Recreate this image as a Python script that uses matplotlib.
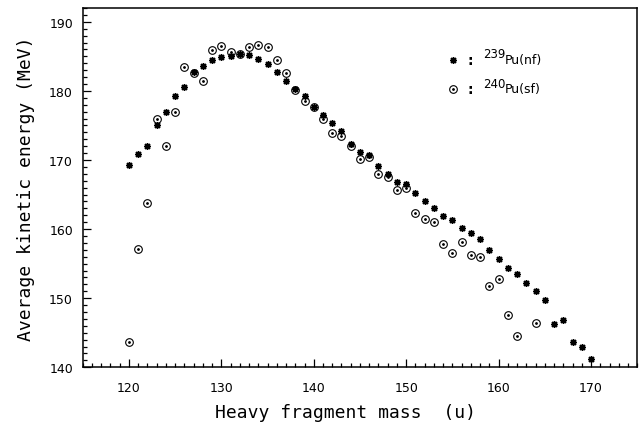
import matplotlib
matplotlib.use("Agg")
import matplotlib.pyplot as plt
from matplotlib.ticker import MultipleLocator

# 239Pu(nf) : heavy fragment mass vs average TKE
mass_nf = list(range(120, 171))
tke_nf = [169.3, 170.8, 172.0, 175.0, 176.9, 179.2, 180.5, 182.7, 183.6, 184.4,
          184.9, 185.1, 185.3, 185.2, 184.6, 183.9, 182.7, 181.4, 180.3, 179.2,
          177.7, 176.5, 175.3, 174.2, 172.3, 171.1, 170.7, 169.1, 168.0, 166.8,
          166.5, 165.2, 164.1, 163.1, 161.9, 161.3, 160.1, 159.5, 158.5, 157.0,
          155.6, 154.4, 153.5, 152.2, 151.0, 149.8, 146.3, 146.9, 143.6, 143.0,
          141.2]

# 240Pu(sf)
mass_sf = list(range(120, 163)) + [164]
tke_sf = [143.7, 157.1, 163.8, 176.0, 172.0, 176.9, 183.5, 182.6, 181.5, 185.9,
          186.5, 185.6, 185.3, 186.3, 186.7, 186.3, 184.4, 182.6, 180.1, 178.6,
          177.6, 175.9, 173.9, 173.4, 172.0, 170.1, 170.5, 168.0, 167.5, 165.6,
          166.0, 162.4, 161.4, 161.0, 157.8, 156.5, 158.2, 156.2, 155.9, 151.8,
          152.8, 147.5, 144.5, 146.4]

x_ticks = [120, 130, 140, 150, 160, 170]
y_ticks = [140, 150, 160, 170, 180, 190]

fig = plt.figure(figsize=(6.39, 4.27), dpi=100)
ax = fig.add_axes([0.1294, 0.1375, 0.8679, 0.8415])

star = dict(marker=(8, 2, 0), color="black", ms=5, mew=1.0, ls="none")
circ = dict(marker="o", mfc="none", mec="black", ms=5.5, mew=0.8, ls="none")
dot = dict(marker=".", color="black", ms=2, ls="none")

ax.plot(mass_nf, tke_nf, **star)
ax.plot(mass_sf, tke_sf, **circ)
ax.plot(mass_sf, tke_sf, **dot)

ax.set_xlim(115, 175)
ax.set_ylim(140, 192)
ax.set_xticks(x_ticks)
ax.set_yticks(y_ticks)
ax.xaxis.set_minor_locator(MultipleLocator(1))
ax.yaxis.set_minor_locator(MultipleLocator(1))
ax.tick_params(which="both", direction="in", top=False, right=False, width=0.9)
ax.tick_params(which="major", length=6, labelsize=9, pad=7)
ax.tick_params(axis="x", which="major", pad=10)
ax.tick_params(which="minor", length=3)
for lab in ax.get_xticklabels() + ax.get_yticklabels():
    lab.set_fontfamily("DejaVu Sans")
for s in ax.spines.values():
    s.set_linewidth(1.1)

ax.set_xlabel("Heavy fragment mass  (u)", family="DejaVu Sans Mono",
              fontsize=13)
ax.xaxis.set_label_coords(0.473, -0.1)
ax.set_ylabel("Average kinetic energy (MeV)", family="DejaVu Sans Mono",
              fontsize=13, labelpad=10)

# legend drawn as text
tr = ax.transAxes
ax.plot([0.668], [0.856], transform=tr, clip_on=False, **star)
ax.plot([0.668], [0.775], transform=tr, clip_on=False, **circ)
ax.plot([0.668], [0.775], transform=tr, clip_on=False, **dot)
for y in (0.856, 0.775):
    ax.text(0.698, y, ":", transform=tr, ha="center", va="center",
            fontsize=10, fontweight="bold")
ax.text(0.722, 0.872, "239", transform=tr, ha="left", va="center", fontsize=8.5)
ax.text(0.761, 0.856, "Pu(nf)", transform=tr, ha="left", va="center", fontsize=9)
ax.text(0.722, 0.791, "240", transform=tr, ha="left", va="center", fontsize=8.5)
ax.text(0.761, 0.775, "Pu(sf)", transform=tr, ha="left", va="center", fontsize=9)

fig.savefig("out.png", dpi=100)
